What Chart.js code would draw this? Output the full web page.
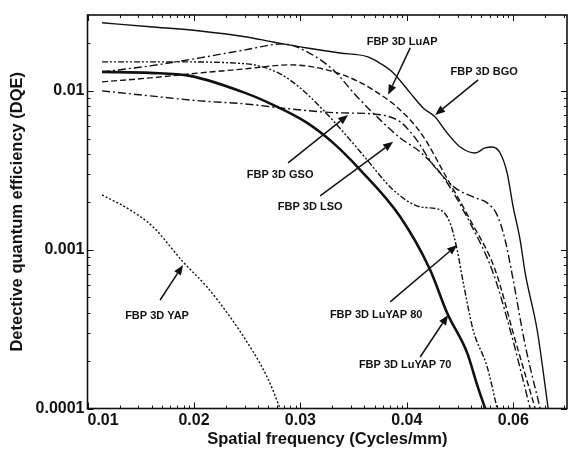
<!DOCTYPE html>
<html>
<head>
<meta charset="utf-8">
<script src="https://cdn.jsdelivr.net/npm/chart.js@4.4.1/dist/chart.umd.min.js"></script>
<style>
  html, body { margin: 0; padding: 0; background: #fff; }
</style>
</head>
<body>
<canvas id="dqeChart" width="570" height="454"></canvas>
<script>
// DQE vs spatial frequency, FBP 3D reconstructions for several scintillators
const bgoFreq = [0.01065, 0.01311, 0.01627, 0.01977, 0.02232, 0.02586, 0.02983, 0.03353, 0.03547, 0.03752, 0.04039, 0.04272, 0.04500, 0.04739, 0.05014, 0.05350, 0.05586, 0.05758, 0.05961, 0.06143, 0.06306, 0.06500, 0.06642, 0.06996, 0.07338];
const bgoDqe  = [0.0268, 0.0253, 0.0238, 0.0219, 0.0203, 0.0186, 0.0173, 0.0164, 0.0149, 0.0130, 0.0097, 0.0078, 0.00685, 0.00543, 0.00443, 0.00406, 0.00437, 0.00443, 0.00406, 0.00304, 0.00186, 0.00115, 0.000713, 0.000312, 0.0001];

const luapFreq = [0.01065, 0.01311, 0.01627, 0.01977, 0.02402, 0.02983, 0.03441, 0.03868, 0.04254, 0.04699, 0.05235, 0.05834, 0.06361, 0.06936];
const luapDqe  = [0.01138, 0.01206, 0.01296, 0.01374, 0.01456, 0.01278, 0.01013, 0.00758, 0.00528, 0.00295, 0.00154, 0.000745, 0.000270, 0.0001];

const gsoFreq = [0.01065, 0.01311, 0.01627, 0.01977, 0.02402, 0.02983, 0.03441, 0.03868, 0.04127, 0.04461, 0.04906, 0.05350, 0.05635, 0.05884, 0.06091, 0.06306, 0.06642, 0.07088];
const gsoDqe  = [0.00999, 0.00929, 0.00864, 0.00827, 0.00769, 0.00726, 0.00715, 0.00637, 0.00505, 0.00342, 0.00245, 0.00212, 0.00197, 0.00165, 0.00115, 0.000645, 0.000251, 0.0001];

const lsoFreq = [0.01065, 0.01311, 0.01627, 0.01977, 0.02331, 0.02586, 0.02894, 0.03211, 0.03547, 0.03868, 0.04217, 0.04658, 0.05235, 0.05783, 0.06225, 0.06788];
const lsoDqe  = [0.01315, 0.01435, 0.01612, 0.01810, 0.01974, 0.01758, 0.01354, 0.00916, 0.00656, 0.00505, 0.00412, 0.00287, 0.00147, 0.000713, 0.000312, 0.0001];

const luyap80Freq = [0.01065, 0.01429, 0.01994, 0.02301, 0.02509, 0.02771, 0.03115, 0.03353, 0.03752, 0.04217, 0.04598, 0.04801, 0.04949, 0.05079, 0.05304, 0.05635, 0.05884];
const luyap80Dqe  = [0.01521, 0.01521, 0.01477, 0.01278, 0.01043, 0.00758, 0.00491, 0.00367, 0.00238, 0.00186, 0.00178, 0.00147, 0.000996, 0.000626, 0.000312, 0.000183, 0.0001];

const luyap70Freq = [0.01065, 0.01311, 0.01558, 0.01977, 0.02232, 0.02586, 0.02894, 0.03253, 0.03868, 0.04404, 0.04739, 0.05168, 0.05396, 0.05586];
const luyap70Dqe  = [0.01315, 0.01296, 0.01241, 0.00970, 0.00815, 0.00628, 0.00470, 0.00318, 0.00161, 0.000745, 0.000399, 0.000224, 0.000141, 0.0001];

const yapFreq = [0.01065, 0.01202, 0.01328, 0.01512, 0.01677, 0.01853, 0.02021, 0.02175, 0.02281, 0.02301];
const yapDqe  = [0.00221, 0.00178, 0.00139, 0.000837, 0.000582, 0.000377, 0.000244, 0.000158, 0.000108, 0.0001];

// axis ranges and tick labels
const xMin = 0.01, xMax = 0.0796;
const yMin = 0.0001, yMax = 0.03;
const xTickValues = [0.01, 0.01585, 0.02512, 0.03981, 0.0631];
const xTickLabels = ['0.01', '0.02', '0.03', '0.04', '0.06'];
const yTickValues = [0.0001, 0.001, 0.01];
const yTickLabels = ['0.0001', '0.001', '0.01'];

// curve labels with arrows (data coordinates)
const notes = [
  { text: 'FBP 3D LuAP',     at: [0.03901, 0.02032],  from: [0.04039, 0.01863],  to: [0.03672, 0.00943] },
  { text: 'FBP 3D BGO',      at: [0.05562, 0.01315],  from: [0.05420, 0.01171],  to: [0.04500, 0.00705] },
  { text: 'FBP 3D GSO',      at: [0.02301, 0.00295],  from: [0.02382, 0.00352],  to: [0.03088, 0.00705] },
  { text: 'FBP 3D LSO',      at: [0.02620, 0.00186],  from: [0.02736, 0.00218],  to: [0.03752, 0.00477] },
  { text: 'FBP 3D LuYAP 80', at: [0.03486, 0.000388], from: [0.03704, 0.000469], to: [0.04949, 0.00107] },
  { text: 'FBP 3D LuYAP 70', at: [0.03952, 0.000188], from: [0.04217, 0.000211], to: [0.04760, 0.000388] },
  { text: 'FBP 3D YAP',      at: [0.01351, 0.000382], from: [0.01369, 0.000482], to: [0.01512, 0.000801] }
];

const ink = '#111';

function series(label, xs, ys, width, dash) {
  return {
    label: label,
    data: xs.map((x, i) => ({ x: x, y: ys[i] })),
    borderColor: ink,
    borderWidth: width,
    borderDash: dash,
    pointRadius: 0,
    fill: false,
    cubicInterpolationMode: 'monotone'
  };
}

// minor tick positions: log-style subdivisions inside each labelled step
function xMinorTicks() {
  const out = [];
  const step = Math.pow(10, 0.2);
  for (let a = xMin; a < xMax; a *= step) {
    for (let k = 2; k <= 9; k++) {
      const v = a * Math.pow(k, 0.2);
      if (v < xMax) out.push(v);
    }
  }
  return out;
}
function yMinorTicks() {
  const out = [];
  for (let d = 0.0001; d < yMax; d *= 10) {
    for (let k = 2; k <= 9; k++) {
      if (d * k < yMax) out.push(d * k);
    }
  }
  return out;
}

const framePlugin = {
  id: 'frameTicks',
  afterDraw(chart) {
    const { ctx, chartArea: a, scales } = chart;
    const xs = scales.x, ys = scales.y;
    ctx.save();
    ctx.strokeStyle = ink;
    ctx.lineWidth = 1;
    const tick = (v, len, axis) => {
      if (axis === 'x') {
        const p = Math.round(xs.getPixelForValue(v)) + 0.5;
        ctx.beginPath();
        ctx.moveTo(p, a.bottom); ctx.lineTo(p, a.bottom - len);
        ctx.moveTo(p, a.top); ctx.lineTo(p, a.top + len);
        ctx.stroke();
      } else {
        const p = Math.round(ys.getPixelForValue(v)) + 0.5;
        ctx.beginPath();
        ctx.moveTo(a.left, p); ctx.lineTo(a.left + len, p);
        ctx.moveTo(a.right, p); ctx.lineTo(a.right - len, p);
        ctx.stroke();
      }
    };
    xTickValues.forEach(v => tick(v, 6, 'x'));
    xMinorTicks().forEach(v => tick(v, 3, 'x'));
    yTickValues.forEach(v => tick(v, 6, 'y'));
    yMinorTicks().forEach(v => tick(v, 3, 'y'));
    ctx.lineWidth = 1.6;
    ctx.strokeRect(a.left, a.top, a.right - a.left, a.bottom - a.top);

    // labels and arrows
    ctx.fillStyle = ink;
    ctx.font = 'bold 11px "Liberation Sans", Arial, sans-serif';
    ctx.textAlign = 'center';
    ctx.textBaseline = 'middle';
    ctx.lineWidth = 1.5;
    notes.forEach(n => {
      const tx = xs.getPixelForValue(n.at[0]), ty = ys.getPixelForValue(n.at[1]);
      ctx.fillText(n.text, tx, ty);
      const x0 = xs.getPixelForValue(n.from[0]), y0 = ys.getPixelForValue(n.from[1]);
      const x1 = xs.getPixelForValue(n.to[0]), y1 = ys.getPixelForValue(n.to[1]);
      const ang = Math.atan2(y1 - y0, x1 - x0);
      const headLen = 10, headHalf = 4;
      const bx = x1 - headLen * Math.cos(ang), by = y1 - headLen * Math.sin(ang);
      ctx.beginPath();
      ctx.moveTo(x0, y0); ctx.lineTo(bx, by);
      ctx.stroke();
      ctx.beginPath();
      ctx.moveTo(x1, y1);
      ctx.lineTo(bx + headHalf * Math.sin(ang), by - headHalf * Math.cos(ang));
      ctx.lineTo(bx - headHalf * Math.sin(ang), by + headHalf * Math.cos(ang));
      ctx.closePath();
      ctx.fill();
    });
    ctx.restore();
  }
};

const labelFont = { family: '"Liberation Sans", Arial, sans-serif', size: 16, weight: 'bold' };

new Chart(document.getElementById('dqeChart').getContext('2d'), {
  type: 'line',
  data: {
    datasets: [
      series('FBP 3D BGO', bgoFreq, bgoDqe, 1.4, []),
      series('FBP 3D LuAP', luapFreq, luapDqe, 1.4, [6, 3]),
      series('FBP 3D GSO', gsoFreq, gsoDqe, 1.4, [8, 3, 2, 3]),
      series('FBP 3D LSO', lsoFreq, lsoDqe, 1.4, [8, 3, 2, 3]),
      series('FBP 3D LuYAP 80', luyap80Freq, luyap80Dqe, 1.4, [6, 2, 2, 2, 2, 2]),
      series('FBP 3D LuYAP 70', luyap70Freq, luyap70Dqe, 2.6, []),
      series('FBP 3D YAP', yapFreq, yapDqe, 1.4, [2, 2])
    ]
  },
  options: {
    responsive: false,
    animation: false,
    layout: { padding: { top: 15, right: 3, left: 0, bottom: 0 } },
    plugins: { legend: { display: false }, tooltip: { enabled: false } },
    scales: {
      x: {
        type: 'logarithmic',
        min: xMin,
        max: xMax,
        bounds: 'data',
        grid: { display: false, drawTicks: false },
        border: { display: false },
        afterBuildTicks: axis => {
          axis.ticks = xTickValues.map(v => ({ value: v })).concat([{ value: xMax }]);
        },
        afterFit: axis => { axis.height = 45.5; },
        ticks: {
          autoSkip: false,
          maxRotation: 0,
          minRotation: 0,
          align: 'inner',
          padding: 2,
          color: ink,
          font: labelFont,
          callback: (v, i) => xTickLabels[i] || ''
        },
        title: {
          display: true,
          text: 'Spatial frequency (Cycles/mm)',
          color: ink,
          font: { family: labelFont.family, size: 16.5, weight: 'bold' },
          padding: { top: 0, bottom: 5 }
        }
      },
      y: {
        type: 'logarithmic',
        min: yMin,
        max: yMax,
        bounds: 'data',
        grid: { display: false, drawTicks: false },
        border: { display: false },
        afterBuildTicks: axis => {
          axis.ticks = yTickValues.map(v => ({ value: v }));
        },
        afterFit: axis => { axis.width = 87.5; },
        ticks: {
          autoSkip: false,
          padding: 3,
          color: ink,
          font: labelFont,
          callback: (v, i) => yTickLabels[i] || ''
        },
        title: {
          display: true,
          text: 'Detective quantum efficiency (DQE)',
          color: ink,
          font: { family: labelFont.family, size: 16.5, weight: 'bold' },
          padding: { top: 8, bottom: 0 }
        }
      }
    }
  },
  plugins: [framePlugin]
});
</script>
</body>
</html>
